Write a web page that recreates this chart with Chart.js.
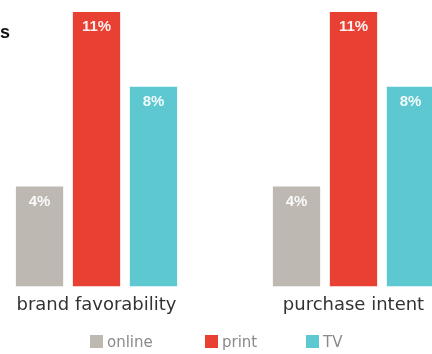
<!DOCTYPE html>
<html>
<head>
<meta charset="utf-8">
<script src="https://cdn.jsdelivr.net/npm/chart.js@4"></script>
<style>
  html, body { margin: 0; padding: 0; background: #fff; overflow: hidden; width: 432px; height: 354px; }
  .wrap { position: absolute; left: -32px; top: 0; width: 514px; height: 354px; }
  .title { position: absolute; left: 0; top: 22px; font: bold 18px "Liberation Sans", Arial, sans-serif; color: #111; }
  .legend { position: absolute; top: 333px; left: 0; width: 432px; height: 20px; font: 15px "DejaVu Sans", sans-serif; color: #8a8a8a; }
  .legend span { position: absolute; top: 0; line-height: 18px; }
  .legend i { display: inline-block; width: 13px; height: 13px; margin-right: 4px; vertical-align: -1px; }
</style>
</head>
<body>
<div class="wrap"><canvas class="myChart"></canvas></div>
<div class="title">s</div>
<div class="legend"></div>
<script>
// categories + series
const categories = ['brand favorability', 'purchase intent']
const series = ['online', 'print', 'TV']
const online = [4, 4]
const print = [11, 11]
const tv = [8, 8]
const colors = ['rgb(190, 184, 178)', 'rgb(232, 64, 50)', 'rgb(94, 200, 208)']

// white % labels inside top of bars
const barLabels = {
  id: 'barLabels',
  afterDatasetsDraw(chart) {
    const ctx = chart.ctx
    ctx.save()
    ctx.font = 'bold 15px "Liberation Sans", Arial, sans-serif'
    ctx.fillStyle = 'rgba(255,255,255,0.92)'
    ctx.textAlign = 'center'
    ctx.textBaseline = 'middle'
    chart.data.datasets.forEach((ds, i) => {
      chart.getDatasetMeta(i).data.forEach((bar, j) => {
        ctx.fillText(ds.data[j] + '%', bar.x, bar.y + 15)
      })
    })
    ctx.restore()
  }
}

const ctx = document.querySelector('.myChart').getContext('2d')
const chart = new Chart(ctx, {
  type: 'bar',
  data: {
    labels: categories,
    datasets: [
      { label: series[0], data: online, backgroundColor: colors[0] },
      { label: series[1], data: print, backgroundColor: colors[1] },
      { label: series[2], data: tv, backgroundColor: colors[2] }
    ]
  },
  options: {
    responsive: true,
    maintainAspectRatio: false,
    animation: false,
    categoryPercentage: 0.665,
    barPercentage: 0.83,
    layout: { padding: { top: 12, bottom: 38, left: 0, right: 0 } },
    plugins: { legend: { display: false }, tooltip: { enabled: false } },
    scales: {
      x: {
        grid: { display: false },
        border: { display: false },
        ticks: { color: '#333', padding: 0, font: { size: 18, family: '"DejaVu Sans", sans-serif' } }
      },
      y: { display: false, min: 0, max: 11 }
    }
  },
  plugins: [barLabels]
})

// legend built from the series
const legendPos = [90, 205, 306]
const legend = document.querySelector('.legend')
series.forEach((s, i) => {
  const el = document.createElement('span')
  el.style.left = legendPos[i] + 'px'
  el.innerHTML = '<i style="background:' + colors[i] + '"></i>' + s
  legend.appendChild(el)
})
</script>
</body>
</html>
